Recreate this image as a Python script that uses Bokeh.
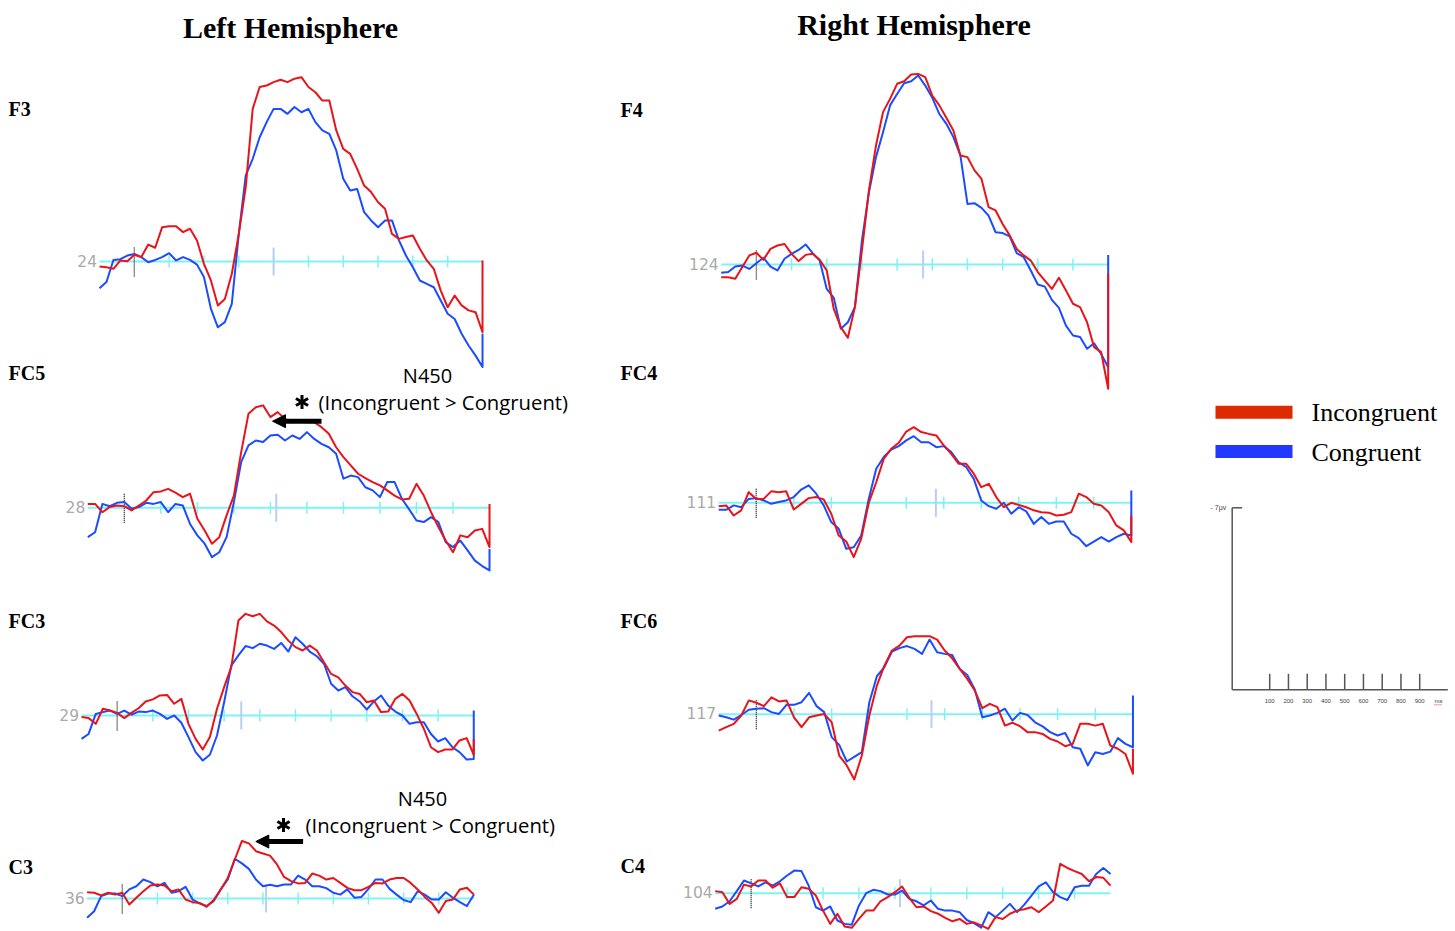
from bokeh.plotting import figure
from bokeh.models import Range1d, Arrow, NormalHead
from bokeh.embed import file_html
from bokeh.resources import INLINE
from bokeh.core.properties import value

# ---------------- DATA ----------------
# sample times (ms) of the averaged ERP waveforms, epoch -100 .. 1000 ms
TIMES_MS = list(range(-100, 1001, 20))
TICK_MS = [100, 200, 300, 400, 500, 600, 700, 800, 900]

CHANNELS = ["F3", "FC5", "FC3", "C3", "F4", "FC4", "FC6", "C4"]
CHANNEL_NUMBERS = ["24", "28", "29", "36", "124", "111", "117", "104"]
CURSOR_MS = [400, 416, 348, 409, 474, 479, 465, 414]

# amplitudes in microvolts (negative plotted upward)
F3_INC = [0.19, 0.22, 0.28, -0.04, -0.01, -0.26, -0.17, -0.65, -0.53, -1.32, -1.36, -1.36, -1.13, -1.26, -0.81, 0.09, 0.73, 1.69, 1.44, 0.47, -1.06, -2.86, -5.87, -6.71, -6.77, -6.9, -6.99, -6.9, -7.03, -7.09, -6.71, -6.51, -6.19, -6.19, -5.04, -4.33, -4.14, -3.56, -2.92, -2.67, -2.28, -2.03, -1.06, -0.87, -0.94, -1.0, -0.49, -0.04, 0.28, 1.12, 1.76, 1.31, 1.69, 1.88, 1.95, 2.72]
F3_CON = [1.03, 0.79, -0.06, -0.09, -0.23, -0.29, -0.17, 0.03, -0.06, -0.17, -0.32, -0.04, -0.17, -0.06, 0.12, 0.6, 1.82, 2.53, 2.33, 1.63, -1.06, -3.31, -3.95, -4.78, -5.36, -5.87, -5.87, -5.68, -5.94, -5.74, -5.87, -5.36, -5.04, -4.91, -4.27, -3.18, -2.73, -2.79, -1.9, -1.58, -1.32, -1.58, -1.58, -0.81, -0.23, 0.22, 0.73, 0.86, 0.99, 1.5, 2.01, 2.21, 2.78, 3.23, 3.62, 4.06]
FC5_INC = [-0.15, -0.15, 0.17, -0.03, -0.09, -0.06, 0.1, -0.09, -0.28, -0.6, -0.63, -0.73, -0.58, -0.41, -0.54, 0.42, 0.87, 1.38, 1.13, 0.29, -0.47, -2.14, -3.62, -3.87, -3.94, -3.49, -3.68, -3.42, -3.29, -3.32, -3.29, -3.29, -3.1, -2.85, -2.33, -1.95, -1.63, -1.31, -1.14, -0.99, -0.86, -0.67, -0.47, -0.32, -0.35, -0.92, -0.47, 0.17, 0.74, 1.26, 1.71, 1.06, 1.13, 0.87, 0.81, 1.51]
FC5_CON = [1.13, 0.94, -0.15, -0.06, -0.19, -0.22, 0.04, -0.03, -0.19, -0.15, -0.22, 0.17, -0.15, -0.09, 0.62, 1.06, 1.38, 1.9, 1.71, 1.13, -0.22, -1.76, -2.4, -2.59, -2.53, -2.78, -2.81, -2.59, -2.78, -2.65, -2.91, -2.65, -2.46, -2.33, -2.08, -1.12, -1.24, -1.18, -0.79, -0.67, -0.41, -0.99, -0.99, -0.35, 0.06, 0.49, 0.55, 0.36, 0.55, 1.32, 1.51, 1.26, 1.64, 2.03, 2.24, 2.41]
FC3_INC = [0.06, 0.1, 0.32, -0.26, -0.19, -0.1, 0.1, -0.1, -0.28, -0.54, -0.62, -0.77, -0.79, -0.45, -0.64, 0.32, 0.9, 1.31, 0.83, -0.26, -1.09, -1.86, -3.65, -3.91, -3.82, -3.91, -3.62, -3.46, -3.21, -2.88, -2.63, -2.5, -2.69, -2.5, -2.05, -1.6, -1.47, -1.15, -0.9, -0.83, -0.51, -0.58, -0.13, -0.15, -0.64, -0.83, -0.58, -0.06, 0.51, 1.22, 1.41, 1.31, 1.31, 0.96, 0.87, 1.51]
FC3_CON = [0.9, 0.71, -0.06, -0.13, -0.19, -0.06, -0.19, -0.03, -0.15, -0.13, -0.19, -0.06, 0.13, 0.0, 0.28, 0.83, 1.41, 1.73, 1.51, 0.77, -0.51, -1.92, -2.31, -2.67, -2.59, -2.76, -2.69, -2.56, -2.79, -2.46, -3.01, -2.76, -2.46, -2.28, -1.99, -1.22, -0.96, -1.09, -0.74, -0.54, -0.23, -0.54, -0.77, -0.38, -0.15, 0.0, 0.32, 0.26, 0.26, 0.71, 1.0, 0.87, 1.22, 1.41, 1.69, 1.67]
C3_INC = [-0.24, -0.22, -0.12, -0.22, -0.15, -0.22, 0.23, -0.03, -0.28, -0.5, -0.54, -0.5, -0.28, -0.35, 0.04, 0.14, 0.17, 0.32, 0.06, -0.35, -0.79, -1.5, -2.21, -2.12, -1.82, -1.73, -1.65, -1.31, -0.83, -0.67, -0.58, -0.6, -0.96, -0.88, -0.73, -0.79, -0.6, -0.41, -0.32, -0.32, -0.45, -0.6, -0.58, -0.73, -0.79, -0.79, -0.6, -0.35, -0.06, 0.17, 0.55, 0.1, 0.04, -0.35, -0.41, -0.15]
C3_CON = [0.74, 0.49, -0.09, -0.19, -0.19, -0.09, -0.35, -0.47, -0.73, -0.63, -0.47, -0.6, -0.22, -0.28, -0.45, 0.04, 0.19, 0.29, 0.1, -0.35, -0.73, -1.53, -1.35, -1.14, -0.73, -0.47, -0.53, -0.47, -0.54, -0.54, -0.88, -0.73, -0.47, -0.47, -0.4, -0.22, -0.15, -0.35, -0.03, -0.06, -0.37, -0.73, -0.73, -0.37, -0.15, 0.06, 0.14, -0.28, -0.15, 0.04, 0.04, -0.24, -0.03, 0.14, 0.29, -0.15]
F4_INC = [0.49, 0.49, 0.55, 0.1, -0.35, -0.45, -0.18, -0.6, -0.73, -0.79, -0.41, -0.13, -0.37, -0.41, -0.18, 0.23, 1.71, 2.41, 2.82, 1.64, -0.54, -2.85, -4.58, -5.86, -6.37, -6.95, -7.05, -7.31, -7.33, -7.21, -6.5, -6.12, -5.64, -5.15, -4.19, -4.13, -3.62, -3.29, -2.21, -2.08, -1.56, -1.12, -0.6, -0.35, -0.15, 0.29, 0.62, 0.94, 0.51, 1.0, 1.51, 1.64, 2.22, 3.18, 3.37, 4.78]
F4_CON = [0.32, 0.29, 0.08, 0.04, 0.17, -0.05, -0.26, 0.08, 0.23, -0.22, -0.41, -0.56, -0.77, -0.44, -0.15, 0.94, 1.28, 2.47, 2.22, 1.64, -0.92, -2.78, -4.13, -5.09, -6.12, -6.56, -6.97, -7.05, -7.27, -6.88, -6.41, -5.79, -5.41, -4.9, -4.19, -2.33, -2.36, -2.18, -1.88, -1.24, -1.21, -1.08, -0.44, -0.28, 0.23, 0.77, 0.85, 1.36, 1.67, 2.35, 2.73, 2.79, 3.24, 3.03, 3.44, 3.95]
FC4_INC = [0.13, 0.1, 0.49, 0.29, -0.41, -0.15, -0.15, -0.44, -0.41, -0.44, 0.26, 0.04, -0.18, -0.22, -0.13, 0.42, 1.26, 1.49, 2.09, 1.38, 0.0, -0.79, -1.69, -2.08, -2.31, -2.74, -2.91, -2.72, -2.65, -2.59, -2.21, -1.88, -1.5, -1.5, -1.12, -0.6, -0.73, -0.22, 0.17, 0.0, 0.08, 0.17, 0.29, 0.36, 0.38, 0.49, 0.46, 0.36, -0.35, -0.22, 0.04, 0.1, 0.36, 0.87, 1.06, 1.51]
FC4_CON = [0.27, 0.27, 0.1, 0.17, -0.15, -0.18, -0.09, 0.04, -0.03, -0.09, -0.22, -0.51, -0.67, -0.35, 0.1, 0.74, 1.0, 1.77, 1.71, 1.26, -0.15, -1.31, -1.76, -2.05, -2.18, -2.4, -2.56, -2.33, -2.33, -2.14, -2.18, -1.95, -1.56, -1.37, -0.92, -0.09, 0.13, 0.23, 0.0, 0.42, 0.17, 0.33, 0.81, 0.55, 0.81, 0.72, 0.72, 1.19, 1.36, 1.67, 1.49, 1.32, 1.49, 1.32, 1.19, 1.26]
FC6_INC = [0.63, 0.5, 0.37, 0.05, -0.53, -0.44, -0.31, -0.65, -0.49, -0.53, 0.12, 0.5, 0.12, 0.05, -0.01, 0.31, 1.59, 1.97, 2.51, 1.59, 0.05, -1.1, -1.87, -2.45, -2.64, -2.96, -3.0, -3.0, -3.0, -2.87, -2.45, -2.15, -1.74, -1.36, -0.91, -0.23, -0.4, -0.27, 0.44, 0.33, 0.46, 0.69, 0.69, 0.76, 0.95, 1.05, 1.23, 1.14, 0.37, 0.37, 0.44, 0.37, 1.21, 1.33, 1.53, 2.29]
FC6_CON = [0.05, 0.12, 0.21, 0.03, -0.17, -0.21, -0.23, -0.08, -0.01, -0.36, -0.36, -0.46, -0.82, -0.31, -0.08, 0.88, 1.18, 1.82, 1.64, 1.46, -0.46, -1.46, -1.81, -2.41, -2.54, -2.62, -2.51, -2.32, -2.87, -2.38, -2.32, -2.28, -1.74, -1.51, -0.95, 0.12, 0.05, -0.05, -0.21, 0.24, -0.05, 0.03, 0.31, 0.47, 0.69, 0.82, 0.72, 1.27, 1.33, 1.97, 1.46, 1.53, 1.44, 0.92, 1.14, 1.27]
C4_INC = [-0.08, -0.04, 0.41, 0.22, -0.33, -0.26, -0.49, -0.49, -0.21, -0.38, 0.15, 0.15, -0.23, -0.17, 0.09, 0.67, 1.18, 0.79, 1.28, 1.33, 0.99, 0.67, 0.67, 0.31, 0.15, -0.04, -0.26, 0.18, 0.54, 0.51, 0.69, 0.79, 0.95, 1.08, 0.99, 1.18, 1.12, 1.24, 1.37, 0.92, 0.99, 0.79, 0.67, 0.62, 0.54, 0.73, 0.51, 0.28, -1.13, -0.97, -0.85, -0.74, -0.46, -0.62, -0.59, -0.29]
C4_CON = [0.6, 0.51, 0.31, -0.08, -0.49, -0.38, -0.26, -0.42, -0.29, -0.46, -0.68, -0.87, -0.85, -0.29, 0.54, 0.67, 0.51, 1.05, 1.18, 1.21, 0.47, 0.0, -0.13, -0.08, 0.05, 0.05, -0.1, 0.22, 0.31, 0.47, 0.28, 0.6, 0.67, 0.67, 0.73, 1.03, 1.15, 1.33, 0.73, 0.92, 0.67, 0.41, 0.73, 0.44, 0.09, -0.26, -0.42, -0.04, 0.15, 0.26, -0.23, -0.29, -0.29, -0.74, -0.97, -0.74]

# value that each trace jumps to at the very end of the epoch
END_INC = [-0.04, -0.15, 0.9, -0.15, 0.36, 0.49, 1.33, -0.29]
END_CON = [2.78, 1.58, -0.19, -0.15, -0.37, -0.47, -0.72, -0.74]

INCONGRUENT = [F3_INC, FC5_INC, FC3_INC, C3_INC, F4_INC, FC4_INC, FC6_INC, C4_INC]
CONGRUENT = [F3_CON, FC5_CON, FC3_CON, C3_CON, F4_CON, FC4_CON, FC6_CON, C4_CON]

LEGEND_LABELS = ["Incongruent", "Congruent"]
SCALE_UV = 7
SCALE_TICKS_MS = [100, 200, 300, 400, 500, 600, 700, 800, 900]

# ---------------- LAYOUT / STYLE ----------------
W, H = 1455, 931
PX_PER_UV = 26.0
# per panel: x of epoch start, px per 100 ms, y of baseline, label position
LAYOUT = {
    "F3":  dict(x0=99.0,  px100=34.82, y0=261.0, lab=(8, 108)),
    "FC5": dict(x0=87.3,  px100=36.52, y0=507.3, lab=(8, 372)),
    "FC3": dict(x0=81.0,  px100=35.66, y0=715.0, lab=(8, 620)),
    "C3":  dict(x0=86.6,  px100=35.17, y0=898.0, lab=(8, 866)),
    "F4":  dict(x0=720.7, px100=35.18, y0=264.0, lab=(620, 109)),
    "FC4": dict(x0=718.2, px100=37.51, y0=502.3, lab=(620, 372)),
    "FC6": dict(x0=718.2, px100=37.66, y0=713.7, lab=(620, 620)),
    "C4":  dict(x0=714.7, px100=35.94, y0=892.7, lab=(620, 865)),
}
RED = "#e8141a"
BLUE = "#1b4cff"
CYAN = "#80f2f2"
CURSOR = "#b6cff2"
SERIF = value("Liberation Serif")
SANS = value("Open Sans")

p = figure(width=W, height=H, x_range=Range1d(0, W), y_range=Range1d(H, 0),
           output_backend="svg", toolbar_location=None, x_axis_type=None, y_axis_type=None,
           min_border=0, outline_line_color=None)
p.background_fill_color = "white"
p.border_fill_color = "white"

for i, ch in enumerate(CHANNELS):
    L = LAYOUT[ch]
    x0, px100, y0 = L["x0"], L["px100"], L["y0"]

    def tx(t, x0=x0, px100=px100):
        return x0 + (t - TIMES_MS[0]) * px100 / 100.0

    def vy(v, y0=y0):
        return y0 + v * PX_PER_UV

    # baseline & ticks
    p.line([tx(TIMES_MS[0]), tx(TIMES_MS[-1])], [y0, y0], line_color=CYAN, line_width=2)
    p.segment(x0=[tx(t) for t in TICK_MS], y0=[y0 - 6] * len(TICK_MS),
              x1=[tx(t) for t in TICK_MS], y1=[y0 + 6] * len(TICK_MS),
              line_color=CYAN, line_width=1.5)
    p.segment(x0=[tx(CURSOR_MS[i])], y0=[y0 - 14], x1=[tx(CURSOR_MS[i])], y1=[y0 + 14],
              line_color=CURSOR, line_width=2)
    p.segment(x0=[tx(0)], y0=[y0 - 14], x1=[tx(0)], y1=[y0 + 15],
              line_color="#222222", line_width=1.4, line_dash="1 1")
    p.text(x=[tx(TIMES_MS[0]) - 2.5], y=[y0 - 1], text=[CHANNEL_NUMBERS[i]],
           text_align="right", text_baseline="middle", text_font=value("DejaVu Sans"),
           text_font_size="15.5px", text_color="#a9a9a9")

    # waveforms (congruent under incongruent)
    xs = [tx(t) for t in TIMES_MS] + [tx(TIMES_MS[-1])]
    p.line(xs, [vy(v) for v in CONGRUENT[i]] + [vy(END_CON[i])],
           line_color=BLUE, line_width=2, line_join="round")
    p.line(xs, [vy(v) for v in INCONGRUENT[i]] + [vy(END_INC[i])],
           line_color=RED, line_width=2, line_join="round")

    lx, ly = L["lab"]
    p.text(x=[lx], y=[ly], text=[ch], text_baseline="middle", text_font=SERIF,
           text_font_style="bold", text_font_size="20px", text_color="black")

# titles
p.text(x=[290], y=[27], text=["Left Hemisphere"], text_align="center",
       text_baseline="middle", text_font=SERIF, text_font_style="bold",
       text_font_size="30px", text_color="black")
p.text(x=[913.5], y=[23.5], text=["Right Hemisphere"], text_align="center",
       text_baseline="middle", text_font=SERIF, text_font_style="bold",
       text_font_size="30px", text_color="black")

# N450 annotations: (N450 centre, sub-text left/centre-y, asterisk centre, arrow x-start, x-end, y)
ANNOT = [(427, 375, 318, 401, 301.5, 401.5, 321, 272, 420.7),
         (422, 798, 305, 824, 283, 824.5, 302.6, 255.3, 841)]
for (nx, ny, px_, py_, ax, ay, bx, ex, arrow_y) in ANNOT:
    p.text(x=[nx], y=[ny], text=["N450"], text_align="center", text_baseline="middle",
           text_font=SANS, text_font_size="20px", text_color="black")
    p.text(x=[px_], y=[py_], text=["(Incongruent > Congruent)"], text_align="left",
           text_baseline="middle", text_font=SANS, text_font_size="20.3px", text_color="black")
    # six-armed asterisk
    r = 7.0
    p.segment(x0=[ax, ax - r * 0.866, ax - r * 0.866], y0=[ay - r, ay - r * 0.5, ay + r * 0.5],
              x1=[ax, ax + r * 0.866, ax + r * 0.866], y1=[ay + r, ay + r * 0.5, ay - r * 0.5],
              line_color="black", line_width=3)
    p.add_layout(Arrow(end=NormalHead(size=13, fill_color="black", line_color="black"),
                       x_start=bx, y_start=arrow_y, x_end=ex, y_end=arrow_y,
                       line_width=5, line_color="black"))

# legend
for lab, col, yy, ty in [(LEGEND_LABELS[0], "#dd2a00", 411.7, 411.7),
                         (LEGEND_LABELS[1], "#2238ff", 451.0, 452.0)]:
    p.line([1215, 1292], [yy, yy], line_color=col, line_width=13, line_cap="butt")
    p.text(x=[1311], y=[ty], text=[lab], text_baseline="middle", text_font=SERIF,
           text_font_size="26px", text_color="black")

# scale bar
SX0, SY0 = 1231.7, 689.3
SPX_MS = 0.1875


def sx(t):
    return SX0 + (t + 100) * SPX_MS


GRAY = "#555555"
p.line([SX0, SX0], [SY0, SY0 - SCALE_UV * PX_PER_UV], line_color=GRAY, line_width=1.5)
p.line([SX0, SX0 + 10], [SY0 - SCALE_UV * PX_PER_UV] * 2, line_color=GRAY, line_width=1.5)
p.line([SX0, sx(1050)], [SY0, SY0], line_color=GRAY, line_width=1.5)
p.segment(x0=[sx(t) for t in SCALE_TICKS_MS], y0=[SY0] * len(SCALE_TICKS_MS),
          x1=[sx(t) for t in SCALE_TICKS_MS], y1=[SY0 - 16] * len(SCALE_TICKS_MS),
          line_color=GRAY, line_width=1.5)
p.text(x=[sx(t) for t in SCALE_TICKS_MS], y=[SY0 + 11] * len(SCALE_TICKS_MS),
       text=[str(t) for t in SCALE_TICKS_MS], text_align="center", text_baseline="middle",
       text_font=value("Liberation Sans"), text_font_size="6px", text_color="#444444")
p.text(x=[sx(1000)], y=[SY0 + 11], text=["ms"], text_align="center", text_baseline="middle",
       text_font=value("Liberation Sans"), text_font_size="6px", text_color="#444444")
p.line([sx(1000) - 4, sx(1000) + 4], [SY0 + 15, SY0 + 15], line_color="#dd3333", line_width=1,
       line_dash="1 1")
p.text(x=[SX0 - 6], y=[SY0 - SCALE_UV * PX_PER_UV], text=["- " + str(SCALE_UV) + "µv"],
       text_align="right", text_baseline="middle", text_font=value("Liberation Sans"),
       text_font_size="7px", text_color="#444444")

open("out.html", "w").write(file_html(p, INLINE))
